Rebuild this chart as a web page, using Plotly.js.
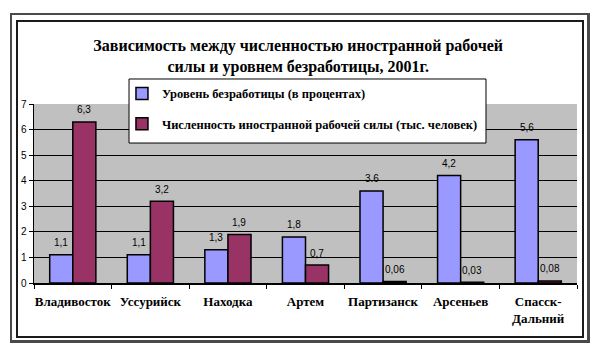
<!DOCTYPE html>
<html>
<head>
<meta charset="utf-8">
<script src="https://cdn.plot.ly/plotly-3.0.1.min.js"></script>
<style>
  html, body { margin: 0; padding: 0; background: #fff; }
  #wrap { position: relative; width: 600px; height: 353px; }
  #chart { position: absolute; left: 0; top: 0; width: 600px; height: 353px; }
  .frame { position: absolute; pointer-events: none; box-sizing: border-box; }
  #outer { left: 10px; top: 13px; width: 580px; height: 330px; border: 2px solid #4a4a4a; border-right-width: 3px; border-bottom-width: 3px; }
  #inner { left: 16px; top: 20px; width: 568px; height: 318px; border: 2px solid #1a1a1a; }
</style>
</head>
<body>
<div id="wrap">
  <div id="chart"></div>
  <div id="outer" class="frame"></div>
  <div id="inner" class="frame"></div>
</div>
<script>
const categories = ["Владивосток", "Уссурийск", "Находка", "Артем", "Партизанск", "Арсеньев", "Спасск-<br>Дальний"];
const unemployment = [1.1, 1.1, 1.3, 1.8, 3.6, 4.2, 5.6];
const foreignWorkers = [6.3, 3.2, 1.9, 0.7, 0.06, 0.03, 0.08];
const unemploymentLabels = ["1,1", "1,1", "1,3", "1,8", "3.6", "4,2", "5,6"];
const foreignWorkersLabels = ["6,3", "3,2", "1,9", "0,7", "0,06", "0,03", "0,08"];
const seriesNames = ["Уровень безработицы (в процентах)", "Численность иностранной рабочей силы (тыс. человек)"];
const titleText = "Зависимость между численностью иностранной рабочей<br>силы и уровнем безработицы, 2001г.";

const serif = "Liberation Serif, Times New Roman, serif";
const sans = "Liberation Sans, Arial, sans-serif";

const traces = [
  {
    type: "bar", name: seriesNames[0], x: categories, y: unemployment,
    marker: { color: "#9999ff", line: { color: "#000", width: 1.5 } },
    legendgroup: "a", hoverinfo: "skip"
  },
  {
    type: "bar", name: seriesNames[1], x: categories, y: foreignWorkers,
    marker: { color: "#993366", line: { color: "#000", width: 1.5 } },
    legendgroup: "b", hoverinfo: "skip"
  }
];

const annotations = [];
categories.forEach((c, i) => {
  annotations.push({ x: c, y: unemployment[i], text: unemploymentLabels[i], xref: "x", yref: "y",
    showarrow: false, xshift: -11.5, yshift: 12, yanchor: "middle",
    font: { family: sans, size: 10, color: "#000" } });
  annotations.push({ x: c, y: foreignWorkers[i], text: foreignWorkersLabels[i], xref: "x", yref: "y",
    showarrow: false, xshift: 11.5, yshift: 12, yanchor: "middle",
    font: { family: sans, size: 10, color: "#000" } });
});

const layout = {
  width: 600, height: 353,
  margin: { l: 34, r: 23, t: 104, b: 70 },
  paper_bgcolor: "#fff",
  plot_bgcolor: "#c0c0c0",
  barmode: "group",
  bargap: 0.405,
  bargroupgap: 0,
  title: {
    text: titleText, x: 0.497, xanchor: "center", xref: "container",
    y: 1 - 51 / 353, yanchor: "top", yref: "container",
    font: { family: serif, size: 16, color: "#000", weight: "bold" }
  },
  xaxis: {
    type: "category",
    showline: true, linecolor: "#000", linewidth: 1.5,
    ticks: "outside", tickson: "boundaries", ticklen: 4, tickcolor: "#000",
    tickangle: 0,
    ticklabelstandoff: 6,
    tickfont: { family: serif, size: 13, color: "#000", weight: "bold" },
    showgrid: false, fixedrange: true
  },
  yaxis: {
    range: [0, 7], dtick: 1, tick0: 0,
    showline: true, linecolor: "#000", linewidth: 1.5,
    ticks: "outside", ticklen: 4, tickcolor: "#000",
    tickfont: { family: sans, size: 10, color: "#000" },
    showgrid: true, gridcolor: "#000", gridwidth: 1,
    zeroline: false, fixedrange: true
  },
  showlegend: true,
  legend: {
    x: 0.162, xanchor: "left", xref: "paper",
    y: 1.14, yanchor: "top", yref: "paper",
    bgcolor: "rgba(0,0,0,0)", borderwidth: 0,
    traceorder: "grouped", tracegroupgap: 11,
    font: { family: serif, size: 12.5, color: "#000", weight: "bold" }
  },
  shapes: [
    { type: "rect", xref: "paper", yref: "paper", x0: 0.175, x1: 0.8324, y0: 0.782, y1: 1.1397,
      fillcolor: "#fff", line: { color: "#000", width: 1 }, layer: "above" }
  ],
  annotations: annotations
};

Plotly.newPlot("chart", traces, layout, { displayModeBar: false, staticPlot: true });
</script>
</body>
</html>
